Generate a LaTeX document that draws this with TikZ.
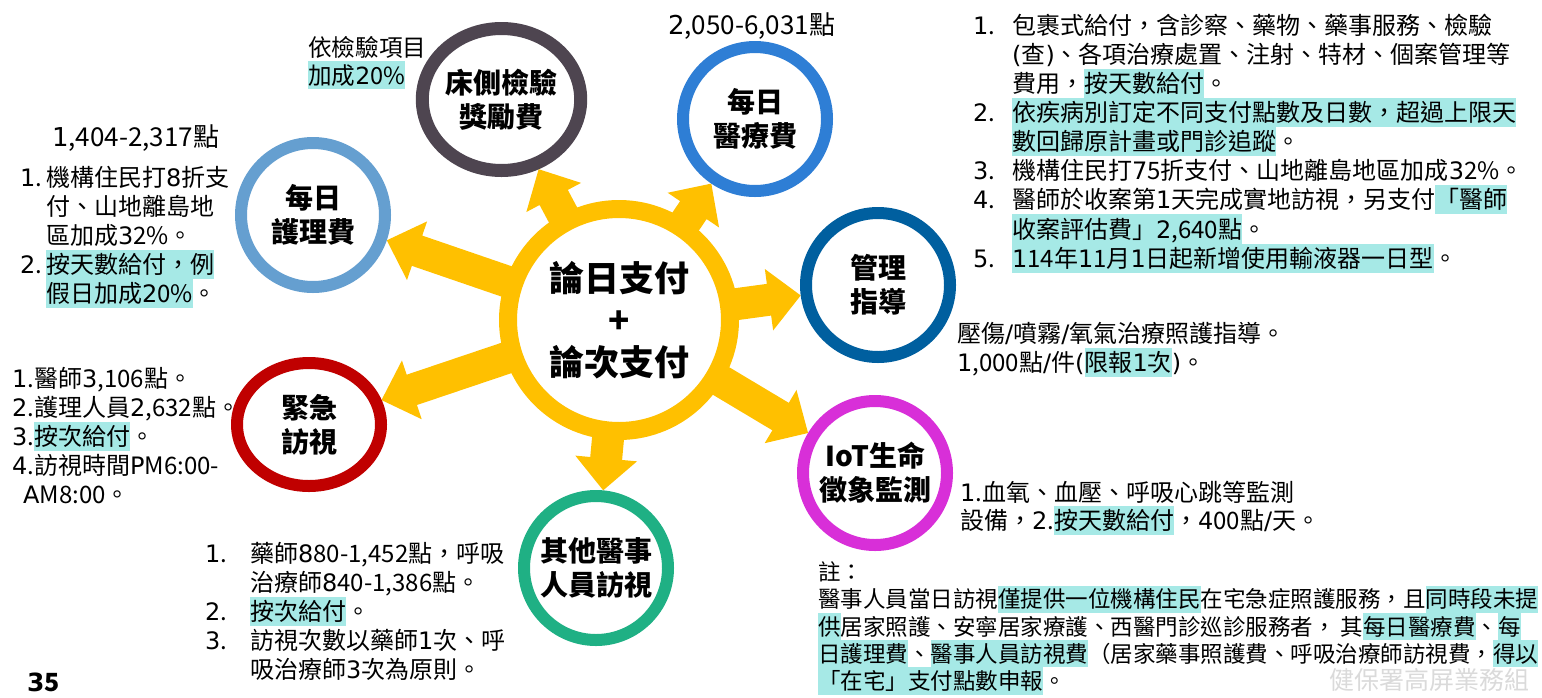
\documentclass[tikz,border=0pt]{standalone}
\usepackage{fontspec}
\setmainfont{Noto Sans CJK TC}
\newfontfamily\latfam{DejaVu Sans}
\usetikzlibrary{calc,backgrounds,shapes.geometric}
% Latin letters, digits and some punctuation are set in DejaVu Sans
\newXeTeXintercharclass\LatCls
\newcount\tmpc
\tmpc=`0 \loop \XeTeXcharclass\tmpc=\LatCls \ifnum\tmpc<`9 \advance\tmpc by 1 \repeat
\tmpc=`A \loop \XeTeXcharclass\tmpc=\LatCls \ifnum\tmpc<`Z \advance\tmpc by 1 \repeat
\tmpc=`a \loop \XeTeXcharclass\tmpc=\LatCls \ifnum\tmpc<`z \advance\tmpc by 1 \repeat
\XeTeXcharclass`\,=\LatCls \XeTeXcharclass`\.=\LatCls \XeTeXcharclass`\-=\LatCls
\XeTeXcharclass`\%=\LatCls \XeTeXcharclass`\/=\LatCls \XeTeXcharclass`\(=\LatCls
\XeTeXcharclass`\)=\LatCls \XeTeXcharclass`\:=\LatCls
\XeTeXinterchartoks 0 \LatCls = {\latfam}
\XeTeXinterchartoks 1 \LatCls = {\latfam}
\XeTeXinterchartoks 2 \LatCls = {\latfam}
\XeTeXinterchartoks 3 \LatCls = {\latfam}
\XeTeXinterchartoks 4095 \LatCls = {\latfam}
\XeTeXinterchartoks \LatCls 0 = {\rmfamily}
\XeTeXinterchartoks \LatCls 1 = {\rmfamily}
\XeTeXinterchartoks \LatCls 2 = {\rmfamily}
\XeTeXinterchartoks \LatCls 3 = {\rmfamily}
\XeTeXinterchartoks \LatCls 4095 = {\rmfamily}
\definecolor{ycol}{HTML}{FFC000}
\definecolor{hlc}{HTML}{A6E9E6}
\definecolor{cnur}{HTML}{659FD0}
\definecolor{cbed}{HTML}{4E4550}
\definecolor{cmed}{HTML}{2E7ED5}
\definecolor{cman}{HTML}{005F9F}
\definecolor{ciot}{HTML}{D82FD8}
\definecolor{coth}{HTML}{1FB084}
\definecolor{cemg}{HTML}{C00000}
\definecolor{cwm}{HTML}{DADADA}
\newlength\sh \newlength\sd \newlength\nw
\newcommand\tbf[2]{\fontsize{#1pt}{#2pt}\selectfont\lineskiplimit=-100pt
  \setlength\sd{\dimexpr #2pt/2-0.38\dimexpr #1pt\relax\relax}%
  \setlength\sh{\dimexpr #2pt-\sd\relax}}
\newcommand\ls{\rule[-\sd]{0pt}{\dimexpr\sh+\sd\relax}}
\newcommand\hl[1]{{\setlength\fboxsep{0pt}\colorbox{hlc}{\ls#1}}}
\newcommand\nm[1]{\ls\makebox[\nw][l]{#1}}
\newcommand\ind{\ls\hspace*{\nw}}
% yellow block arrow from central node cc to node #1 whose outer radius along the ray is #2
\newcommand\yarrow[2]{%
  \coordinate (yT) at ($(#1.center)!#2!(cc.center)$);
  \coordinate (yH) at ($(yT)!32pt!(cc.center)$);
  \fill[ycol] ($(cc.center)!16pt!90:(yT)$) -- ($(yH)!16pt!-90:(cc.center)$)
    -- ($(yH)!31pt!-90:(cc.center)$) -- (yT) -- ($(yH)!31pt!90:(cc.center)$)
    -- ($(yH)!16pt!90:(cc.center)$) -- ($(cc.center)!16pt!-90:(yT)$) -- cycle;}
\tikzset{
  ring/.style={circle, line width=12pt, fill=white, inner sep=0pt, align=center,
    minimum size=144pt, font={\tbf{28}{34}\bfseries}},
  ering/.style={ellipse, line width=12pt, fill=white, inner sep=0pt, align=center,
    font={\tbf{28}{34}\bfseries}},
  txt/.style={anchor=north west, inner sep=0pt, align=left},
}
\begin{document}
\begin{tikzpicture}[x=1pt,y=-1pt]
\XeTeXinterchartokenstate=1
\useasboundingbox (0,0) rectangle (1542,697);
% central
\node[circle, draw=ycol, line width=18pt, fill=white, minimum size=222pt, inner sep=0pt,
  align=center, font={\tbf{35}{42}\bfseries}] (cc) at (619,320) {\ls 論日支付\\\ls +\\\ls 論次支付};
% satellites
\node[ring, draw=cnur] (nur) at (313,215) {\ls 每日\\\ls 護理費};
\node[ering, draw=cbed, line width=13pt, minimum width=158pt, minimum height=142pt] (bed) at (501.5,99.5) {\ls 床側檢驗\\\ls 獎勵費};
\node[ring, draw=cmed] (med) at (755,119) {\ls 每日\\\ls 醫療費};
\node[ring, draw=cman] (man) at (878,285) {\ls 管理\\\ls 指導};
\node[ring, draw=ciot] (iot) at (875,473) {\ls IoT生命\\\ls 徵象監測};
\node[ring, draw=coth] (oth) at (596,568) {\ls 其他醫事\\\ls 人員訪視};
\node[ering, draw=cemg, minimum width=144pt, minimum height=123pt] (emg) at (309,424.5) {\ls 緊急\\\ls 訪視};
\begin{pgfonlayer}{background}
\yarrow{nur}{78pt}
\yarrow{bed}{79pt}
\yarrow{med}{78pt}
\yarrow{man}{78pt}
\yarrow{iot}{78pt}
\yarrow{oth}{78pt}
\yarrow{emg}{76.5pt}
\end{pgfonlayer}
% texts
\node[txt, font={\tbf{23.6}{28}}] (tbed) at (308,33) {\ls 依檢驗項目\\\hl{加成20\%}};
\node[txt, font={\tbf{26}{29}}] (tnurpt) at (52,121.5) {\ls 1,404-2,317點};
\node[txt, font={\tbf{24}{29}\setlength\nw{26pt}}] (tnur) at (20,162.5) {%
\nm{1.}機構住民打8折支\\
\ind 付、山地離島地\\
\ind 區加成32\%。\\
\nm{2.}\hl{按天數給付，例}\\
\ind\hl{假日加成20\%}。};
\node[txt, font={\tbf{26}{29}}] (tmedpt) at (668,9.5) {\ls 2,050-6,031點};
\node[txt, font={\tbf{24}{29.1}\setlength\nw{39pt}}] (tmed) at (973,10.5) {%
\nm{1.}包裹式給付，含診察、藥物、藥事服務、檢驗\\
\ind(查)、各項治療處置、注射、特材、個案管理等\\
\ind 費用，\hl{按天數給付}。\\
\nm{2.}\hl{依疾病別訂定不同支付點數及日數，超過上限天}\\
\ind\hl{數回歸原計畫或門診追蹤}。\\
\nm{3.}機構住民打75折支付、山地離島地區加成32\%。\\
\nm{4.}醫師於收案第1天完成實地訪視，另支付\hl{「醫師}\\
\ind\hl{收案評估費」2,640點}。\\
\nm{5.}\hl{114年11月1日起新增使用輸液器一日型}。};
\node[txt, font={\tbf{24}{29}}] (tman) at (957,318.5) {%
\ls 壓傷/噴霧/氧氣治療照護指導。\\
\ls 1,000點/件(\hl{限報1次})。};
\node[txt, font={\tbf{24}{28.5}}] (tiot) at (960,477.75) {%
\ls 1.血氧、血壓、呼吸心跳等監測\\
\ls 設備，2.\hl{按天數給付}，400點/天。};
\node[txt, font={\tbf{22.5}{27.2}}] (tnote) at (818,558.4) {%
\ls 註：\\
\ls 醫事人員當日訪視\hl{僅提供一位機構住民}在宅急症照護服務，且\hl{同時段未提}\\
\ls\hl{供}居家照護、安寧居家療護、西醫門診巡診服務者， 其\hl{每日醫療費}、\hl{每}\\
\ls\hl{日護理費}、\hl{醫事人員訪視費}（居家藥事照護費、呼吸治療師訪視費，\hl{得以}\\
\ls\hl{「在宅」支付點數申報}。};
\node[txt, font={\tbf{24}{29}}] (temg) at (12,363.5) {%
\ls 1.醫師3,106點。\\
\ls 2.護理人員2,632點。\\
\ls 3.\hl{按次給付}。\\
\ls 4.訪視時間PM6:00-\\
\ls\hspace*{11pt}AM8:00。};
\node[txt, font={\tbf{24}{29}\setlength\nw{45pt}}] (toth) at (205,538.5) {%
\nm{1.}藥師880-1,452點，呼吸\\
\ind 治療師840-1,386點。\\
\nm{2.}\hl{按次給付}。\\
\nm{3.}訪視次數以藥師1次、呼\\
\ind 吸治療師3次為原則。};
\node[anchor=west, inner sep=0pt, font={\fontsize{25pt}{30pt}\selectfont\bfseries}] (pg) at (27,682) {35};
\node[anchor=east, inner sep=0pt, text=cwm, font={\fontsize{25pt}{30pt}\selectfont}] (wm) at (1530,680) {健保署高屏業務組};
\end{tikzpicture}
\end{document}
